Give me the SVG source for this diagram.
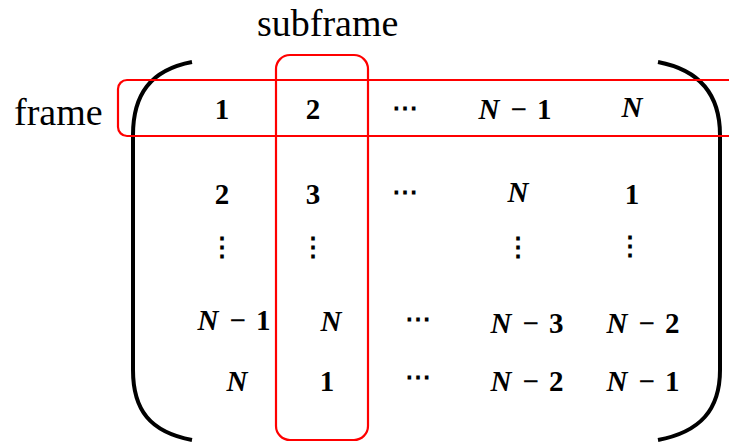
<svg xmlns="http://www.w3.org/2000/svg" width="729" height="443" viewBox="0 0 729 443">
<style>
.lbl{font-family:"Liberation Serif",serif;font-size:38px;fill:#000}
.m{font-family:"Liberation Serif",serif;font-size:29px;font-weight:bold;fill:#000;text-anchor:middle}
.d{font-family:"Liberation Serif",serif;font-size:26px;font-weight:bold;fill:#000;text-anchor:middle}
.i{font-style:italic}
.paren{fill:none;stroke:#000;stroke-width:4}
.box{fill:none;stroke:#ff0000;stroke-width:2.2}
</style>
<rect width="729" height="443" fill="#fff"/>
<g id="brackets">
<path class="paren" d="M192 62 C150 70 133 95 133 135 L133 370 C133 410 150 432 192 440"/>
<path class="paren" d="M658 62 C700 70 720 95 720 135 L720 370 C720 410 700 432 658 440"/>
</g>
<g id="matrix">
<text class="m" x="222" y="119">1</text>
<text class="m" x="313" y="119">2</text>
<text class="d" x="405" y="117">⋯</text>
<text class="m" x="515" y="119"><tspan class="i">N</tspan><tspan dx="11">−</tspan><tspan dx="10">1</tspan></text>
<text class="m" x="632" y="117" font-style="italic">N</text>

<text class="m" x="222" y="204">2</text>
<text class="m" x="313" y="204">3</text>
<text class="d" x="405" y="201">⋯</text>
<text class="m" x="518" y="202" font-style="italic">N</text>
<text class="m" x="632" y="204">1</text>

<text class="d" x="222" y="256">⋮</text>
<text class="d" x="313" y="256">⋮</text>
<text class="d" x="518" y="256">⋮</text>
<text class="d" x="630" y="255">⋮</text>

<text class="m" x="234" y="330"><tspan class="i">N</tspan><tspan dx="11">−</tspan><tspan dx="10">1</tspan></text>
<text class="m" x="331" y="331" font-style="italic">N</text>
<text class="d" x="418" y="328">⋯</text>
<text class="m" x="527" y="333"><tspan class="i">N</tspan><tspan dx="11">−</tspan><tspan dx="10">3</tspan></text>
<text class="m" x="643" y="333"><tspan class="i">N</tspan><tspan dx="11">−</tspan><tspan dx="10">2</tspan></text>

<text class="m" x="237" y="391" font-style="italic">N</text>
<text class="m" x="327" y="391">1</text>
<text class="d" x="418" y="386">⋯</text>
<text class="m" x="527" y="391"><tspan class="i">N</tspan><tspan dx="11">−</tspan><tspan dx="10">2</tspan></text>
<text class="m" x="643" y="391"><tspan class="i">N</tspan><tspan dx="11">−</tspan><tspan dx="10">1</tspan></text>
</g>
<g id="frame">
<rect class="box" x="118" y="80" width="640" height="56" rx="9"/>
<text class="lbl" x="14" y="125">frame</text>
</g>
<g id="subframe">
<rect class="box" x="276" y="55" width="92" height="385" rx="14"/>
<text class="lbl" x="257" y="36">subframe</text>
</g>
</svg>
